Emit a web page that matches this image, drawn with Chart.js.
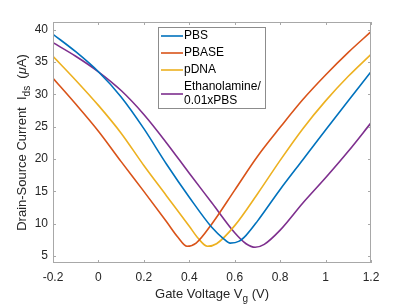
<!DOCTYPE html>
<html>
<head>
<meta charset="utf-8">
<script src="https://cdn.jsdelivr.net/npm/chart.js@4"></script>
<style>
  html, body { margin: 0; padding: 0; background: #fff; }
</style>
</head>
<body>
<canvas id="myChart" width="409" height="307"></canvas>
<script>
const FONT = '"Liberation Sans", Arial, Helvetica, sans-serif';

// tick values / labels
const xTicks = [-0.2, 0, 0.2, 0.4, 0.6, 0.8, 1, 1.2];
const xTickLabels = ["-0.2", "0", "0.2", "0.4", "0.6", "0.8", "1", "1.2"];
const yTicks = [5, 10, 15, 20, 25, 30, 35, 40];
const yTickLabels = ["5", "10", "15", "20", "25", "30", "35", "40"];

// series (Vg in V, Ids in uA)
const pbsV = [-0.2, -0.1, 0, 0.1, 0.2, 0.3, 0.4, 0.5, 0.55, 0.58, 0.62, 0.65, 0.7, 0.8, 0.9, 1.0, 1.1, 1.2];
const pbsI = [39.3, 36.6, 33.5, 29.6, 24.7, 19.2, 14.1, 9.4, 7.7, 7.0, 7.3, 8.2, 10.4, 15.3, 19.9, 24.5, 29.0, 33.5];

const pbaseV = [-0.2, -0.1, 0, 0.1, 0.2, 0.3, 0.35, 0.39, 0.43, 0.5, 0.6, 0.7, 0.8, 0.9, 1.0, 1.1, 1.2];
const pbaseI = [32.5, 28.5, 24.3, 19.6, 15.0, 10.3, 7.9, 6.5, 7.0, 10.0, 15.2, 20.4, 24.9, 29.2, 33.0, 36.5, 39.7];

const pdnaV = [-0.2, -0.1, 0, 0.1, 0.2, 0.3, 0.4, 0.44, 0.48, 0.52, 0.6, 0.7, 0.8, 0.9, 1.0, 1.1, 1.2];
const pdnaI = [35.9, 32.2, 28.3, 24.0, 19.0, 14.3, 9.6, 7.7, 6.5, 6.9, 9.7, 14.6, 19.8, 24.7, 29.0, 32.8, 36.2];

const ethV = [-0.2, -0.1, 0, 0.1, 0.2, 0.3, 0.4, 0.5, 0.6, 0.65, 0.69, 0.73, 0.8, 0.9, 1.0, 1.1, 1.2];
const ethI = [38.0, 35.9, 33.5, 30.6, 26.9, 22.5, 17.8, 13.2, 8.6, 6.9, 6.35, 6.8, 9.0, 13.2, 17.1, 21.2, 25.6];

const labels = [["PBS"], ["PBASE"], ["pDNA"], ["Ethanolamine/", "0.01xPBS"]];
const colors = ["#0072BD", "#D95319", "#EDB120", "#7E2F8E"];

const toPoints = (vs, is) => vs.map((v, i) => ({ x: v, y: is[i] }));
const allSeries = [[pbsV, pbsI], [pbaseV, pbaseI], [pdnaV, pdnaI], [ethV, ethI]];

const datasets = allSeries.map((s, i) => ({
  label: labels[i].join(" "),
  data: toPoints(s[0], s[1]),
  borderColor: colors[i],
  borderWidth: 1.6,
  pointRadius: 0,
  fill: false,
  cubicInterpolationMode: "monotone",
}));

// box, inner ticks, axis titles with subscripts, legend
const decorations = {
  id: "decorations",
  afterDatasetsDraw(chart) {
    const { ctx, chartArea: a, scales } = chart;
    const tick = 3;
    ctx.save();
    ctx.strokeStyle = "#a8a8a8";
    ctx.lineWidth = 1;
    ctx.strokeRect(a.left + 0.5, a.top + 0.5, a.right - a.left - 1, a.bottom - a.top - 1);
    ctx.beginPath();
    xTicks.forEach(v => {
      const px = Math.round(scales.x.getPixelForValue(v)) + 0.5;
      ctx.moveTo(px, a.bottom); ctx.lineTo(px, a.bottom - tick);
      ctx.moveTo(px, a.top); ctx.lineTo(px, a.top + tick);
    });
    yTicks.forEach(v => {
      const py = Math.round(scales.y.getPixelForValue(v)) + 0.5;
      ctx.moveTo(a.left, py); ctx.lineTo(a.left + tick, py);
      ctx.moveTo(a.right, py); ctx.lineTo(a.right - tick, py);
    });
    ctx.stroke();

    // axis titles
    ctx.fillStyle = "#262626";
    ctx.textBaseline = "alphabetic";
    ctx.textAlign = "left";
    const big = "13px " + FONT, small = "10px " + FONT;
    const drawParts = (parts, cx, cy) => {
      let w = 0;
      parts.forEach(p => { ctx.font = p.f; w += ctx.measureText(p.t).width; });
      let x = cx - w / 2;
      parts.forEach(p => { ctx.font = p.f; ctx.fillText(p.t, x, cy + (p.dy || 0)); x += ctx.measureText(p.t).width; });
    };
    drawParts([
      { t: "Gate Voltage V", f: big },
      { t: "g", f: small, dy: 4 },
      { t: " (V)", f: big },
    ], (a.left + a.right) / 2, 298);

    ctx.save();
    ctx.translate(26, (a.top + a.bottom) / 2);
    ctx.rotate(-Math.PI / 2);
    drawParts([
      { t: "Drain-Source Current  I", f: big },
      { t: "ds", f: small, dy: 4 },
      { t: "  (", f: big },
      { t: "\u03bc", f: "italic 13px " + FONT },
      { t: "A)", f: big },
    ], 0, 0);
    ctx.restore();

    // legend
    const lx = 158, ly = 27, lw = 107, lh = 81;
    ctx.fillStyle = "#fff";
    ctx.fillRect(lx, ly, lw, lh);
    ctx.strokeStyle = "#8c8c8c";
    ctx.strokeRect(lx + 0.5, ly + 0.5, lw, lh);
    const rows = [[36], [53], [70], [87, 101]];
    ctx.font = "12px " + FONT;
    ctx.textBaseline = "middle";
    chart.data.datasets.forEach((d, i) => {
      const ys = rows[i];
      const lineY = (ys[0] + ys[ys.length - 1]) / 2;
      ctx.strokeStyle = d.borderColor;
      ctx.lineWidth = 1.6;
      ctx.beginPath();
      ctx.moveTo(161, lineY); ctx.lineTo(183, lineY);
      ctx.stroke();
      ctx.fillStyle = "#000";
      labels[i].forEach((t, j) => ctx.fillText(t, 184, ys[j]));
    });
    ctx.restore();
  },
};

const ctx = document.getElementById("myChart");
new Chart(ctx, {
  type: "line",
  data: { datasets: datasets },
  options: {
    responsive: false,
    devicePixelRatio: 1,
    animation: false,
    layout: { padding: { top: 22, right: 38, left: 0, bottom: 0 } },
    plugins: { legend: { display: false }, tooltip: { enabled: false } },
    scales: {
      x: {
        type: "linear",
        min: -0.2,
        max: 1.2,
        grid: { display: false, drawTicks: false, tickLength: 0 },
        border: { display: false },
        afterBuildTicks: (scale) => { scale.ticks = xTicks.map(v => ({ value: v })); },
        afterFit: (scale) => { scale.height = 44; },
        ticks: {
          padding: 7,
          maxRotation: 0,
          autoSkip: false,
          color: "#262626",
          font: { family: FONT, size: 12 },
          callback: (value) => xTickLabels[xTicks.indexOf(value)],
        },
      },
      y: {
        type: "linear",
        min: 3.92,
        max: 41.2,
        grid: { display: false, drawTicks: false, tickLength: 0 },
        border: { display: false },
        afterBuildTicks: (scale) => { scale.ticks = yTicks.map(v => ({ value: v })); },
        afterFit: (scale) => { scale.width = 53; },
        ticks: {
          padding: 5,
          autoSkip: false,
          color: "#262626",
          font: { family: FONT, size: 12 },
          callback: (value) => yTickLabels[yTicks.indexOf(value)],
        },
      },
    },
  },
  plugins: [decorations],
});
</script>
</body>
</html>
